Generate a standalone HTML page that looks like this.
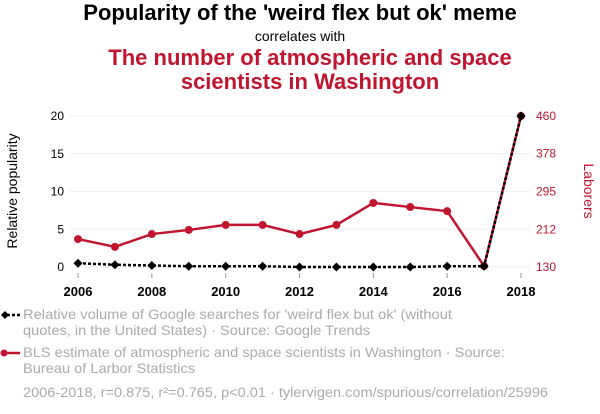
<!DOCTYPE html>
<html><head><meta charset="utf-8">
<style>
body{margin:0;background:#fff;font-family:"Liberation Sans",sans-serif;}
#wrap{position:relative;width:600px;height:414px;overflow:hidden;}
.t{position:absolute;left:0;width:600px;text-align:center;}
</style></head>
<body>
<div id="wrap">
<div class="t" style="top:0px;font-size:22px;font-weight:bold;color:#000;">Popularity of the 'weird flex but ok' meme</div>
<div class="t" style="top:28px;font-size:14px;color:#000;">correlates with</div>
<div class="t" style="top:46px;font-size:22px;font-weight:bold;color:#c0152f;line-height:24px;left:10px;">The number of atmospheric and space<br>scientists in Washington</div>
<svg id="svg" width="600" height="414" style="position:absolute;left:0;top:0"></svg>
</div>
<script>
const years=[2006,2007,2008,2009,2010,2011,2012,2013,2014,2015,2016,2017,2018];
const memeValues=[0.5,0.3,0.2,0.1,0.1,0.1,0,0,0,0,0.1,0.1,20];
const laborValues=[191,174,202,211,222,222,202,222,270,261,252,132,460];
const xTicks=[2006,2008,2010,2012,2014,2016,2018];
const leftTicks=[0,5,10,15,20];
const rightTicks=[130,212,295,378,460];
const NS="http://www.w3.org/2000/svg";
const svg=document.getElementById('svg');
const x=v=>78+(v-2006)/12*443;
const yl=v=>267-v/20*151;
const yr=v=>267-(v-130)/330*151;
function mk(tag,attrs,parent){const e=document.createElementNS(NS,tag);for(const k in attrs)e.setAttribute(k,attrs[k]);(parent||svg).appendChild(e);return e;}
leftTicks.forEach(t=>{
 const g=mk('line',{x1:70,x2:530,y1:yl(t),y2:yl(t),stroke:'#eee','stroke-width':1});
 
 
 const l=mk('text',{x:64,y:yl(t)+4,'text-anchor':'end','font-size':12,fill:'#000'});
 l.textContent=t;
 
 
});
rightTicks.forEach(t=>{
 const l=mk('text',{x:536,y:yr(t)+4,'font-size':12,fill:'#c0152f'});
 l.textContent=t;
 
 
});
xTicks.forEach(t=>{
 const tk=mk('line',{x1:x(t),x2:x(t),y1:273,y2:278,stroke:'#999'});
 
 
 const l=mk('text',{x:x(t),y:296,'text-anchor':'middle','font-size':13,'font-weight':'bold',fill:'#000'});
 l.textContent=t;
 
 
});
const yt=mk('text',{x:0,y:0,transform:'translate(17,191) rotate(-90)','text-anchor':'middle','font-size':14,fill:'#000'});
yt.textContent='Relative popularity';


const yt2=mk('text',{x:0,y:0,transform:'translate(584,191) rotate(90)','text-anchor':'middle','font-size':14,fill:'#c0152f'});
yt2.textContent='Laborers';


const rl=mk('polyline',{points:years.map((y,i)=>x(y)+','+yr(laborValues[i])).join(' '),fill:'none',stroke:'#c0152f','stroke-width':2.5});


years.forEach((y,i)=>{
 const c=mk('circle',{cx:x(y),cy:yr(laborValues[i]),r:4,fill:'#c0152f'});
 
 
});
const ml=mk('polyline',{points:years.map((y,i)=>x(y)+','+yl(memeValues[i])).join(' '),fill:'none',stroke:'#000','stroke-width':2.5,'stroke-dasharray':'3,2'});


years.forEach((y,i)=>{
 const cx=x(y),cy=yl(memeValues[i]);
 const d=mk('polygon',{points:`${cx},${cy-4.5} ${cx+4.5},${cy} ${cx},${cy+4.5} ${cx-4.5},${cy}`,fill:'#000'});
 
 
});
const lg1=mk('line',{x1:2,x2:20,y1:315,y2:315,stroke:'#000','stroke-width':2.5,'stroke-dasharray':'3,2'});


const lgd=mk('polygon',{points:'5,311 9,315 5,319 1,315',fill:'#000'});


const lg2=mk('line',{x1:2,x2:20,y1:353,y2:353,stroke:'#c0152f','stroke-width':2.5});


const lgc=mk('circle',{cx:4,cy:353,r:3.5,fill:'#c0152f'});


function txt(lines,lens,y0,name,size){lines.forEach((s,i)=>{const t=mk('text',{x:23,y:y0+i*16,'font-size':size,fill:'#aaa',textLength:lens[i],lengthAdjust:'spacingAndGlyphs'});t.textContent=s;});}
txt(["Relative volume of Google searches for 'weird flex but ok' (without","quotes, in the United States) · Source: Google Trends"],[429,347],319,'legend-meme-label',14);
txt(["BLS estimate of atmospheric and space scientists in Washington · Source:","Bureau of Larbor Statistics"],[482,172],357,'legend-labor-label',14);
txt(["2006-2018, r=0.875, r²=0.765, p<0.01 · tylervigen.com/spurious/correlation/25996"],[525],397,'footer',14);
</script>
</body></html>
